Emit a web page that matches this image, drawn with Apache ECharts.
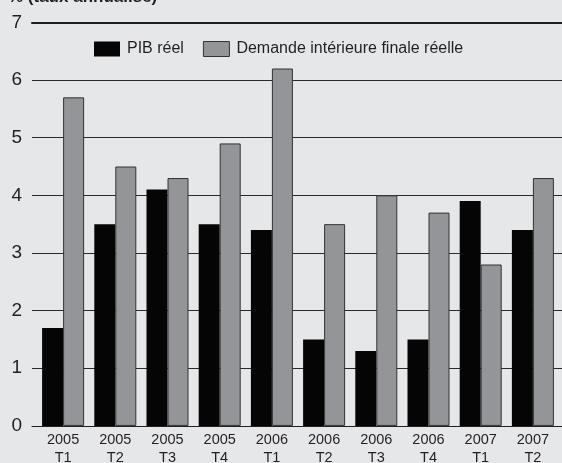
<!DOCTYPE html>
<html>
<head>
<meta charset="utf-8">
<script src="https://cdn.jsdelivr.net/npm/echarts@6/dist/echarts.min.js"></script>
<style>
  html, body { margin: 0; padding: 0; background: #e6e7e9; }
  #chart { width: 562px; height: 463px; }
</style>
</head>
<body>
<div id="chart"></div>
<script>
// Quarterly growth, annualised rate (%)
const quarters = ['2005\nT1', '2005\nT2', '2005\nT3', '2005\nT4', '2006\nT1',
                  '2006\nT2', '2006\nT3', '2006\nT4', '2007\nT1', '2007\nT2'];
const pibReel = [1.7, 3.5, 4.1, 3.5, 3.4, 1.5, 1.3, 1.5, 3.9, 3.4];
const demandeInterieure = [5.7, 4.5, 4.3, 4.9, 6.2, 3.5, 4.0, 3.7, 2.8, 4.3];
const yTicks = [0, 1, 2, 3, 4, 5, 6, 7];

const FONT = '"Liberation Sans", Arial, Helvetica, sans-serif';
const INK = '#231f20';
const chart = echarts.init(document.getElementById('chart'), null, { renderer: 'canvas' });

chart.setOption({
  backgroundColor: '#e6e7e9',
  animation: false,
  title: {
    text: '% (taux annualisé)',
    left: 3,
    top: -16,
    textStyle: { fontFamily: FONT, fontSize: 17, fontWeight: 'bold', color: INK }
  },
  legend: {
    top: 36,
    left: 89,
    icon: 'rect',
    itemWidth: 26,
    itemHeight: 15,
    itemGap: 19,
    textStyle: { fontFamily: FONT, fontSize: 16, color: INK, padding: [0, 0, 0, 2] },
    data: [
      { name: 'PIB réel', itemStyle: { color: '#050505', borderWidth: 0 } },
      { name: 'Demande intérieure finale réelle',
        itemStyle: { color: '#939598', borderColor: '#333333', borderWidth: 1 } }
    ]
  },
  grid: [
    // bars
    { left: 37, right: 3, top: 22.4, bottom: 37.1, containLabel: false, outerBoundsMode: 'none' },
    // reference lines across the full width
    { left: 32, right: 0, top: 22.4, bottom: 37.1, containLabel: false, outerBoundsMode: 'none' }
  ],
  xAxis: [
    {
      type: 'category',
      gridIndex: 0,
      data: quarters,
      axisLine: { show: false },
      axisTick: { show: false },
      axisLabel: {
        fontFamily: FONT, fontSize: 14.5, color: INK,
        lineHeight: 18, margin: 5, interval: 0
      }
    },
    {
      type: 'category',
      gridIndex: 1,
      position: 'bottom',
      data: quarters,
      axisLine: { show: true, lineStyle: { color: INK, width: 1.2 } },
      axisTick: { show: false },
      axisLabel: { show: false }
    },
    {
      type: 'category',
      gridIndex: 1,
      position: 'top',
      data: quarters,
      axisLine: { show: true, lineStyle: { color: INK, width: 2 } },
      axisTick: { show: false },
      axisLabel: { show: false }
    }
  ],
  yAxis: [
    {
      type: 'value',
      gridIndex: 0,
      min: 0, max: 7, interval: 1,
      axisLine: { show: false },
      axisTick: { show: false },
      axisLabel: { show: false },
      splitLine: { show: false }
    },
    {
      type: 'value',
      gridIndex: 1,
      min: yTicks[0], max: yTicks[yTicks.length - 1], interval: 1,
      axisLine: { show: false },
      axisTick: { show: false },
      axisLabel: {
        fontFamily: FONT, fontSize: 19, color: INK, margin: 10,
        formatter: v => (yTicks.indexOf(v) >= 0 ? String(v) : '')
      },
      splitLine: { show: true, lineStyle: { color: '#2a2a2c', width: 1.2 } }
    }
  ],
  series: [
    {
      name: 'PIB réel',
      type: 'bar',
      xAxisIndex: 0, yAxisIndex: 0,
      data: pibReel,
      barWidth: 21,
      barGap: '0%',
      itemStyle: { color: '#050505' },
      z: 3
    },
    {
      name: 'Demande intérieure finale réelle',
      type: 'bar',
      xAxisIndex: 0, yAxisIndex: 0,
      data: demandeInterieure,
      barWidth: 21,
      barGap: '0%',
      itemStyle: { color: '#939598', borderColor: '#333333', borderWidth: 1 },
      z: 3
    }
  ]
});
</script>
</body>
</html>
